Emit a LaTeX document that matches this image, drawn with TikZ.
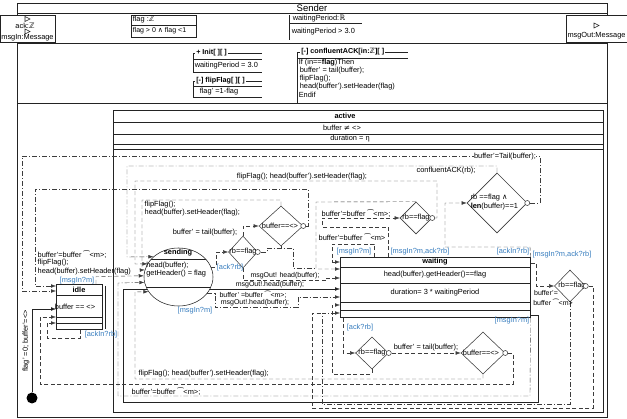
\documentclass[tikz,border=0pt]{standalone}
\usepackage{fontspec}
\setmainfont{Liberation Sans}
\newfontfamily\symf{DejaVu Sans}
\usetikzlibrary{shapes.geometric,arrows.meta,backgrounds}
\definecolor{lc}{RGB}{35,35,35}
\definecolor{gc}{RGB}{60,60,60}
\definecolor{bl}{RGB}{55,125,190}
\newcommand{\myZ}{{\symf ℤ}}
\newcommand{\myR}{{\symf ℝ}}
\newcommand{\myand}{{\symf ∧}}
\newcommand{\myne}{{\symf ≠}}
\newcommand{\mycat}{{\symf ⁀}}
\begin{document}
\begin{tikzpicture}[x=1pt,y=-1pt,line width=0.55pt,
  font=\fontsize{7.4}{8}\selectfont,
  dd/.style={draw=gc,dash pattern=on 5pt off 2pt on 1pt off 2pt},
  ds/.style={draw=gc,dash pattern=on 4pt off 2.5pt},
  arr/.style={-{Latex[length=5pt,width=3.6pt]}},
  dia/.style={diamond,draw=gc,fill=white,inner sep=0pt},
  oc/.style={circle,draw=gc,fill=white,inner sep=0pt,minimum size=5pt},
  lab/.style={inner sep=0.5pt},
  tl/.style={inner sep=0.5pt,anchor=west},
  blab/.style={inner sep=0.5pt,text=bl},
  sm/.style={inner sep=0pt,font=\fontsize{7}{8}\selectfont},
  box/.style={draw=lc,fill=white,inner sep=0pt,anchor=north west},
  ttl/.style={inner sep=1pt,anchor=west,fill=white,font=\fontsize{7.2}{8}\selectfont\bfseries},
  bt/.style={inner sep=0.5pt,font=\fontsize{7.4}{8}\selectfont\bfseries},
]
\useasboundingbox (0,0) rectangle (627,419);

% ---------- frame and header ----------
\draw[lc,line width=0.7pt] (17,3) rectangle (607,417);
\draw[lc] (17,13) -- (607,13);
\node[lab,font=\fontsize{9.5}{10}\selectfont] (sender) at (312,8) {Sender};

\node[box,minimum width=55,minimum height=27] (pin) at (0,15) {};
\draw[lc] (25,16.5) -- ++(5,2.5) -- ++(-5,2.5) -- cycle;
\node[lab] (pack) at (25,25.5) {ack:\myZ};
\draw[lc] (25,29) -- ++(5,2.5) -- ++(-5,2.5) -- cycle;
\node[lab] (pmsg) at (27.5,38) {msgIn:Message};
\node[box,minimum width=61,minimum height=27] (pout) at (566,15) {};
\draw[lc] (594,23) -- ++(5,2.5) -- ++(-5,2.5) -- cycle;
\node[lab] (pmo) at (596.5,36) {msgOut:Message};

\draw[lc] (131,15) rectangle (196,37);
\draw[lc] (131,25) -- (196,25);
\node[tl] (fa) at (132,20) {flag :\myZ};
\node[tl,font=\fontsize{7}{8}\selectfont] (fb) at (132,31) {flag > 0 \myand{} flag <1};
\draw[lc] (289,15) -- (289,40);
\draw[lc] (289,23.5) -- (362,23.5);
\node[tl] (wa) at (292,18.5) {waitingPeriod:\myR};
\node[tl] (wb) at (291,32) {waitingPeriod > 3.0};
\draw[lc] (17,43) -- (607,43);

\draw[lc] (193,72) -- (193,53) -- (262,53);
\draw[lc] (193,59) -- (262,59);
\draw[lc] (193,72) -- (262,72);
\node[ttl] (it) at (195,53) {+ Init[ ][ ]};
\node[tl] (ib) at (194,65.5) {waitingPeriod = 3.0};
\draw[lc] (193,97) -- (193,81) -- (262,81);
\draw[lc] (193,86) -- (262,86);
\draw[lc] (193,97) -- (262,97);
\node[ttl] (ft) at (195,81) {[-] flipFlag[ ][ ]};
\node[tl] (fb2) at (199,91.5) {flag' =1-flag};
\draw[lc] (297,103) -- (297,52) -- (408,52);
\draw[lc] (297,58) -- (408,58);
\node[ttl] (ct) at (300,52) {[-] confluentACK[in:\myZ][ ]};
\node[tl] (c1) at (298,63) {If (in==\textbf{flag})Then};
\node[tl] (c2) at (299,71) {buffer' = tail(buffer);};
\node[tl] (c3) at (299,79) {flipFlag();};
\node[tl] (c4) at (299,87) {head(buffer').setHeader(flag)};
\node[tl] (c5) at (298,95) {Endif};
\draw[lc] (17,103) -- (607,103);

% ---------- active ----------
\draw[lc] (113,110) rectangle (603,412);
\draw[lc] (113,122) -- (603,122);
\draw[lc] (113,134) -- (603,134);
\draw[lc] (113,144) -- (603,144);
\draw[lc] (113,149) -- (603,149);
\node[bt] (act) at (345,116) {active};
\node[lab] (abuf) at (342,128) {buffer \myne{} <>};
\node[lab] (adur) at (350,139) {duration = η};

% ---------- states ----------
\node[box,minimum width=46,minimum height=45] (idle) at (56,284) {};
\draw[lc] (56,295) -- (102,295);
\draw[lc] (56,317) -- (102,317);
\draw[lc] (56,323) -- (102,323);
\draw[lc] (105.5,286) -- (105.5,329);
\node[bt] (idlet) at (79,290) {idle};
\node[lab] (idleb) at (75,307) {buffer == <>};

\node[ellipse,draw=lc,fill=white,minimum width=69,minimum height=58,inner sep=0pt] (sending) at (178.5,277) {};
\begin{scope}
\clip (178.5,277) ellipse [x radius=34.5pt, y radius=29pt];
\draw[lc] (140,259) -- (220,259);
\draw[lc] (140,287) -- (220,287);
\end{scope}
\node[bt] (sendt) at (178,253) {sending};
\node[tl] (send1) at (145.5,266) {head(buffer);};
\node[tl] (send2) at (145.5,274) {getHeader() = flag};

\node[box,minimum width=190,minimum height=60] (waiting) at (340,257) {};
\draw[lc] (340,267) -- (530,267);
\draw[lc] (340,283) -- (530,283);
\draw[lc] (340,302) -- (530,302);
\draw[lc] (340,310) -- (530,310);
\node[bt] (waitt) at (435,262) {waiting};
\node[lab] (wait1) at (435,275) {head(buffer).getHeader()==flag};
\node[lab] (wait2) at (435,292.5) {duration= 3 * waitingPeriod};

% diamonds
\node[dia,minimum width=44,minimum height=40] (d1) at (281,226) {};
\node[lab] (d1t) at (280,226) {buffer==<>};
\node[oc] (d1o) at (d1.east) {};
\node[dia,minimum width=32,minimum height=32] (d2) at (416,218) {};
\node[lab] (d2t) at (416,218) {rb==flag};
\node[oc] (d2o) at (d2.east) {};
\node[dia,minimum width=29,minimum height=32] (d3) at (243,252) {};
\node[lab] (d3t) at (243,252) {rb==flag};
\node[oc] (d3o) at (d3.east) {};
\node[dia,minimum width=60,minimum height=60] (dbig) at (497,203) {};
\node[tl] (dbt1) at (470,198) {rb ==flag \myand};
\node[tl] (dbt2) at (470,207) {\textbf{len}(buffer)==1};
\node[oc] (dbo) at (dbig.east) {};
\node[dia,minimum width=31,minimum height=32] (d4) at (570,286) {};
\node[lab] (d4t) at (572,286) {rb==flag};
\node[oc] (d4o) at (d4.east) {};
\node[dia,minimum width=44,minimum height=42] (d5) at (483,353) {};
\node[lab] (d5t) at (481,353) {buffer==<>};
\node[oc] (d5o) at (d5.east) {};
\node[dia,minimum width=33,minimum height=32] (d6) at (372,353) {};
\node[lab] (d6t) at (372,353) {rb==flag};
\node[oc] (d6o) at (d6.east) {};

\node[circle,fill=black,minimum size=11,inner sep=0pt] (init) at (32,398) {};

% ---------- solid loop (behind) ----------
\begin{pgfonlayer}{background}
\draw[lc,arr] (waiting.south east |- 0,315) -- (538,315) -- (538,402) -- (123,402) -- (123,289) -- (waiting.west |- 0,289);
\end{pgfonlayer}
\node[sm] (lso) at (270,285) {msgOut!.head(buffer);};

% ---------- transitions ----------
\draw[lc,arr] (init.north) -- (32,309) -- (idle.west |- 0,309);
\node[lab,rotate=90] (initl) at (26,341) {flag' =0; buffer'=<>};

\draw[dd,arr] (dbo.east) -- (540,203) -- (540,156) -- (22,156) -- (22,291) -- (idle.west |- 0,291);
\node[lab,fill=white] (lp1) at (505,156.5) {buffer'=Tail(buffer);};

\draw[dd,arr] (dbig.north) -- (497,166) -- (127,166) -- (127,257) -- (sending.141.3);
\node[lab] (lp2a) at (446,171) {confluentACK(rb);};
\node[lab] (lp2b) at (302,177) {flipFlag(); head(buffer').setHeader(flag);};

\draw[ds,arr] (d2o.east) -- (437,218) -- (437,181) -- (135,181) -- (135,264) -- (sending.157.1);
\draw[dd,arr] (d1o.east) -- (308,226) -- (308,189) -- (35,189) -- (35,286) -- (idle.west |- 0,286);
\draw[ds,arr] (d1.north) -- (281,200) -- (142,200) -- (142,270) -- (sending.168.2);
\node[tl] (lp5a) at (144,204.5) {flipFlag();};
\node[tl] (lp5b) at (144,213) {head(buffer).setHeader(flag);};

\draw[ds,arr] (idle.north -| 96,0) -- (96,276.5) -- (sending.178.3);
\node[tl] (lp6a) at (37,254.5) {buffer'=buffer \mycat<m>;};
\node[tl] (lp6b) at (37,263) {flipFlag();};
\node[tl] (lp6c) at (37,271.5) {head(buffer).setHeader(flag)};
\node[blab] (lp6d) at (77,280.5) {[msgIn?m]};

\draw[dd,arr] (waiting.south east) -- (530,396) -- (118,396) -- (118,283) -- (sending.189.9);
\node[blab] (lp7a) at (512,321) {[msgIn?m]};
\node[lab] (lp7b) at (166,392) {buffer'=buffer \mycat<m>;};

\draw[ds,arr] (idle.south -| 80,0) -- (80,338) -- (47,338) -- (47,323) -- (idle.west |- 0,323);
\node[blab] (lp8) at (101,335) {[ackIn?rb]};

\draw[ds,arr] (d5o.east) -- (513,353) -- (513,384) -- (40,384) -- (40,317) -- (idle.west |- 0,317);
\draw[ds,arr] (d5.south) -- (483,379) -- (135,379) -- (135,292) -- (sending.206.9);
\node[tl] (lp10) at (138,374) {flipFlag(); head(buffer').setHeader(flag);};

\draw[ds,arr] (sending.17) -| (216,252) -- (d3.west);
\node[blab] (lsd3) at (230,268) {[ack?rb]};
\draw[ds,arr] (d3.north) -- (243,226) -- (d1.west);
\node[lab] (ld3d1) at (205,233) {buffer' = tail(buffer);};
\draw[ds,arr] (d3.south) -- (243,280.5) -- (326,280.5) -- (326,278) -- (waiting.west |- 0,278);
\node[sm] (ld3w) at (285,275.5) {msgOut! head(buffer);};
\draw[dd] (d3o.east) -- (267,252) -- (267,248) -- (293,248) -- (293,268) -- (316,268);
\draw[dd] (d1.south) -- (281,248);

\draw[ds,arr] (d2.north) -- (316,202) -- (316,269) -- (waiting.west |- 0,269);
\draw[ds,arr] (waiting.north -| 388,0) -- (388,227) -- (322,227) -- (322,218) -- (d2.west);
\node[lab] (ld2a) at (356,213.5) {buffer'=buffer \mycat<m>;};
\node[blab] (ld2b) at (420,252) {[msgIn?m,ack?rb]};
\draw[ds,arr] (waiting.north -| 374,0) -- (374,244) -- (332,244) -- (332,262) -- (waiting.west |- 0,262);
\node[lab] (lw1a) at (352,237) {buffer'=buffer \mycat<m>};
\node[blab] (lw1b) at (354,252) {[msgIn?m]};

\draw[ds,arr] (waiting.north east) -- (530,247) -- (445,247) -- (445,203) -- (dbig.west);
\node[blab] (lwb) at (513,252) {[ackIn?rb]};

\draw[ds,arr] (waiting.east |- 0,263) -- (536,263) -- (536,286) -- (d4.west);
\node[blab] (lw4) at (562,255) {[msgIn?m,ack?rb]};
\draw[dd,arr] (d4.south) -- (570,404) -- (322,404) -- (322,313) -- (waiting.west |- 0,313);
\draw[ds] (d4o.east) -- (593,286) -- (593,408) -- (312,408) -- (312,313) -- (322,313);
\node[sm] (ld4a) at (546,293.5) {buffer'=};
\node[sm] (ld4b) at (553,302) {buffer \mycat<m>};

\draw[ds,arr] (waiting.south -| 343,0) -- (343,353) -- (d6.west);
\node[blab] (lw6) at (360,328) {[ack?rb]};
\draw[ds,arr] (d6o.east) -- (d5.west);
\node[lab] (ld6) at (426,348) {buffer' =  tail(buffer);};
\draw[ds,arr] (d6.south) -- (372,374) -- (332,374) -- (332,305) -- (waiting.west |- 0,305);

\draw[dd,arr] (sending.-30) -| (215,307.5) -- (298,307.5) -- (298,297) -- (waiting.west |- 0,297);
\node[sm] (lsw1) at (253,294.5) {buffer' =buffer \mycat<m>;};
\node[sm] (lsw2) at (255,303) {msgOut!.head(buffer);};
\node[blab] (lsw3) at (195,310.5) {[msgIn?m]};
\end{tikzpicture}
\end{document}
